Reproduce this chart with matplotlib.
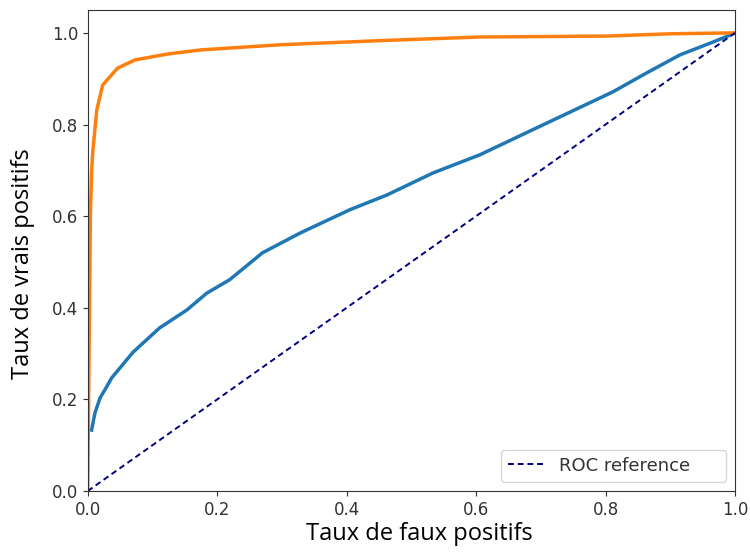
import matplotlib
matplotlib.use("Agg")
import matplotlib.pyplot as plt

# courbe bleue
fpr_bleu = [0.006, 0.011, 0.019, 0.029, 0.037, 0.07, 0.111, 0.153, 0.184, 0.219,
            0.27, 0.328, 0.405, 0.462, 0.533, 0.606, 0.709, 0.811, 0.864,
            0.915, 0.966, 0.992, 1.0]
tpr_bleu = [0.133, 0.17, 0.203, 0.227, 0.247, 0.303, 0.356, 0.395, 0.432, 0.461,
            0.52, 0.563, 0.614, 0.646, 0.694, 0.734, 0.803, 0.871, 0.913,
            0.952, 0.98, 0.995, 1.0]

# courbe orange
fpr_orange = [0.0, 0.002, 0.004, 0.006, 0.008, 0.014, 0.023, 0.046, 0.073, 0.124,
              0.176, 0.297, 0.45, 0.606, 0.8, 0.9, 1.0]
tpr_orange = [0.0, 0.3, 0.6, 0.7, 0.745, 0.832, 0.886, 0.923, 0.941, 0.954,
              0.963, 0.974, 0.983, 0.991, 0.993, 0.998, 1.0]

ref = [0, 1]

fig = plt.figure(figsize=(7.5, 5.54), dpi=100)
ax = fig.add_axes([0.117, 0.1137, 0.863, 0.8683])

ax.plot(fpr_bleu, tpr_bleu, color='#1f77b4', lw=2.5)
ax.plot(fpr_orange, tpr_orange, color='#ff7f0e', lw=2.5)
ax.plot(ref, ref, color='navy', lw=1.4, ls=(0, (3, 2)), label='ROC reference     ')

ax.set_xlim(0, 1)
ax.set_ylim(0, 1.05)
ax.tick_params(labelsize=12, colors='#333333', labelcolor='#333333')
for s in ax.spines.values():
    s.set_color('#333333')
ax.set_xlabel('Taux de faux positifs', fontsize=17, family='Open Sans')
ax.set_ylabel('Taux de vrais positifs', fontsize=17, family='Open Sans')
ax.xaxis.set_label_coords(0.513, -0.064)
ax.yaxis.set_label_coords(-0.082, 0.472)
leg = ax.legend(loc='lower right', fontsize=13, handlelength=2)
for t in leg.get_texts():
    t.set_color('#333333')

fig.savefig('out.png', dpi=100)
